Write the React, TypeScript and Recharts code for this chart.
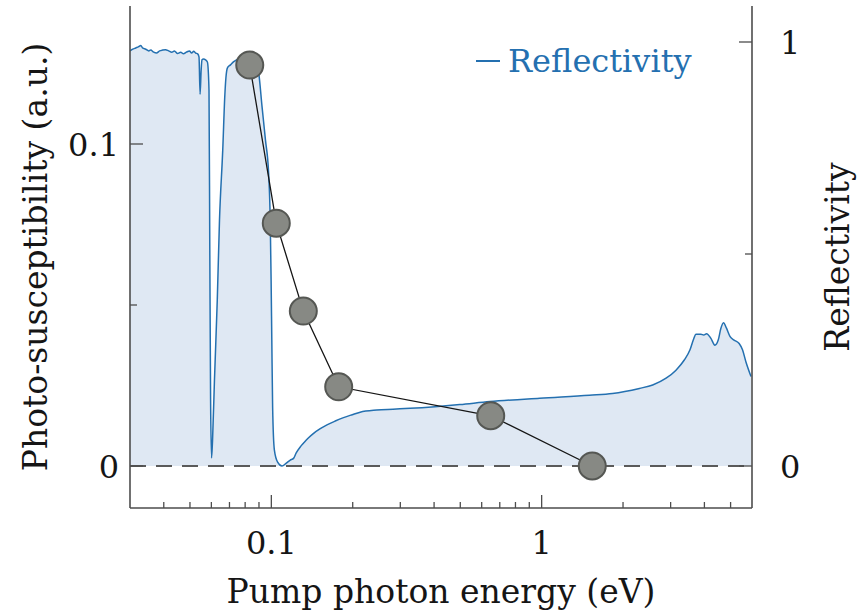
import {
  ComposedChart,
  Area,
  Scatter,
  XAxis,
  YAxis,
  ReferenceLine,
  Legend,
} from 'recharts';

const FONT = '"DejaVu Serif", serif';
const BLUE = '#2470b0';
const FILL = '#dfe8f3';
const AXIS = '#4d4d4d';
const INK = '#151515';

// reflectivity spectrum (photon energy in eV)
const REFL_E = [
  0.0300, 0.0307, 0.0315, 0.0323, 0.0329, 0.0334, 0.0343, 0.0352, 0.0358, 0.0367,
  0.0376, 0.0386, 0.0396, 0.0406, 0.0417, 0.0428, 0.0438, 0.0450, 0.0462, 0.0473,
  0.0485, 0.0498, 0.0507, 0.0516, 0.0525, 0.0534, 0.0540, 0.0545, 0.0550, 0.0554,
  0.0561, 0.0571, 0.0580, 0.0588, 0.0592, 0.0596, 0.0601, 0.0606, 0.0616, 0.0631,
  0.0643, 0.0661, 0.0673, 0.0679, 0.0688, 0.0706, 0.0724, 0.0743, 0.0762, 0.0788,
  0.0815, 0.0844, 0.0873, 0.0898, 0.0924, 0.0951, 0.0977, 0.0991, 0.0998, 0.1004,
  0.1011, 0.1026, 0.1055, 0.1095, 0.1136, 0.1175, 0.1208, 0.1236, 0.1279, 0.1316,
  0.1370, 0.1433, 0.1517, 0.1606, 0.1723, 0.1849, 0.1991, 0.2131, 0.2454, 0.2819,
  0.3260, 0.4030, 0.4980, 0.6430, 0.9831, 1.503, 1.828, 2.299, 2.575, 2.886,
  3.140, 3.370, 3.538, 3.638, 3.724, 3.884, 3.977, 4.075, 4.228, 4.374,
  4.500, 4.604, 4.707, 4.828, 4.980, 5.150, 5.378, 5.534, 5.695, 5.950,
];
const REFL_R = [
  0.979, 0.983, 0.986, 0.989, 0.992, 0.986, 0.983, 0.979, 0.981, 0.976,
  0.974, 0.979, 0.981, 0.982, 0.979, 0.976, 0.979, 0.973, 0.976, 0.972,
  0.976, 0.979, 0.974, 0.978, 0.974, 0.972, 0.965, 0.877, 0.934, 0.958,
  0.960, 0.958, 0.953, 0.887, 0.509, 0.156, 0.019, 0.061, 0.203, 0.392,
  0.580, 0.745, 0.875, 0.915, 0.939, 0.946, 0.953, 0.958, 0.962, 0.965,
  0.967, 0.967, 0.958, 0.927, 0.847, 0.769, 0.691, 0.573, 0.439, 0.297,
  0.139, 0.038, 0.009, 0.000, 0.007, 0.014, 0.018, 0.031, 0.045, 0.054,
  0.066, 0.077, 0.088, 0.097, 0.106, 0.114, 0.121, 0.127, 0.132, 0.134,
  0.136, 0.140, 0.145, 0.152, 0.160, 0.167, 0.171, 0.183, 0.191, 0.207,
  0.226, 0.250, 0.274, 0.297, 0.311, 0.311, 0.309, 0.312, 0.301, 0.285,
  0.297, 0.325, 0.338, 0.325, 0.305, 0.297, 0.289, 0.274, 0.246, 0.211,
];

// photo-susceptibility measured at the pump energies
const PUMP_E = [0.0832, 0.1043, 0.1313, 0.1775, 0.648, 1.539];
const PUMP_S = [0.1245, 0.0754, 0.0481, 0.0246, 0.0156, 0.0];

const X_TICKS = [
  0.04, 0.05, 0.06, 0.07, 0.08, 0.09, 0.1,
  0.2, 0.3, 0.4, 0.5, 0.6, 0.7, 0.8, 0.9, 1,
  2, 3, 4, 5,
];
const X_LABELS = [0.1, 1];
const S_TICKS = [0, 0.05, 0.1];
const S_LABELS = [0, 0.1];
const R_TICKS = [0, 0.5, 1];
const R_LABELS = [0, 1];

const reflData = REFL_E.map((e, i) => ({ e, r: REFL_R[i] }));
const pumpData = PUMP_E.map((e, i) => ({ e, s: PUMP_S[i] }));

const axisLine = { stroke: AXIS, strokeWidth: 1.6 };

// ticks point into the plot, labels only on the decades / main values
function XTick({ x, y, payload }: any) {
  const major = X_LABELS.includes(payload.value);
  return (
    <g>
      <line x1={x} x2={x} y1={y} y2={y - (major ? 13 : 6)} stroke={AXIS} strokeWidth={1.3} />
      {major && (
        <text x={x} y={y + 46} textAnchor="middle" fontFamily={FONT} fontSize={32} fill={INK}>
          {payload.value}
        </text>
      )}
    </g>
  );
}

function LeftTick({ x, y, payload }: any) {
  const major = S_LABELS.includes(payload.value);
  return (
    <g>
      <line x1={x} x2={x + (major ? 13 : 7)} y1={y} y2={y} stroke={AXIS} strokeWidth={1.3} />
      {major && (
        <text x={x - 11} y={y + 12} textAnchor="end" fontFamily={FONT} fontSize={32} fill={INK}>
          {payload.value}
        </text>
      )}
    </g>
  );
}

function RightTick({ x, y, payload }: any) {
  const major = R_LABELS.includes(payload.value);
  return (
    <g>
      <line x1={x} x2={x - (major ? 13 : 7)} y1={y} y2={y} stroke={AXIS} strokeWidth={1.3} />
      {major && (
        <text x={x + 28} y={y + 12} textAnchor="start" fontFamily={FONT} fontSize={32} fill={INK}>
          {payload.value}
        </text>
      )}
    </g>
  );
}

const verticalTitle = (text: string, dx: number) => (props: any) => {
  const vb = props.viewBox;
  const cx = vb.x + dx;
  const cy = vb.y + vb.height / 2;
  return (
    <text
      x={cx}
      y={cy}
      transform={`rotate(-90 ${cx} ${cy})`}
      textAnchor="middle"
      dominantBaseline="central"
      fontFamily={FONT}
      fontSize={33}
      fill={INK}
    >
      {text}
    </text>
  );
};

const renderLegend = ({ payload }: any) => (
  <div style={{ display: 'flex', alignItems: 'center', fontFamily: FONT, fontSize: 32, lineHeight: '32px', color: BLUE }}>
    {(payload || [])
      .filter((p: any) => p.type !== 'none')
      .map((p: any) => (
        <span key={p.value} style={{ display: 'flex', alignItems: 'center' }}>
          <svg width={24} height={4}>
            <line x1={0} x2={24} y1={2} y2={2} stroke={BLUE} strokeWidth={2} />
          </svg>
          <span style={{ marginLeft: 8 }}>{p.value}</span>
        </span>
      ))}
  </div>
);

export default function App() {
  return (
    <div style={{ position: 'absolute', left: 0, top: 0, background: '#fff' }}>
      <ComposedChart
        width={860}
        height={615}
        data={reflData}
        margin={{ top: 6, right: 0, bottom: 0, left: 0 }}
      >
        <XAxis
          dataKey="e"
          type="number"
          scale="log"
          domain={[0.03, 6]}
          allowDataOverflow
          ticks={X_TICKS}
          interval={0}
          tick={<XTick />}
          tickLine={false}
          tickSize={0}
          tickMargin={0}
          height={107}
          axisLine={axisLine}
          label={{
            value: 'Pump photon energy (eV)',
            position: 'insideBottom',
            offset: 12,
            style: { fontFamily: FONT, fontSize: 33, fill: INK },
          }}
        />
        <XAxis
          xAxisId="top"
          orientation="top"
          type="number"
          scale="log"
          domain={[0.03, 6]}
          allowDataOverflow
          height={0}
          tick={false}
          tickLine={false}
          axisLine={axisLine}
        />
        <YAxis
          yAxisId="left"
          dataKey="s"
          type="number"
          domain={[-0.013043, 0.142857]}
          allowDataOverflow
          ticks={S_TICKS}
          interval={0}
          tick={<LeftTick />}
          tickLine={false}
          tickSize={0}
          tickMargin={0}
          width={130}
          axisLine={axisLine}
          label={verticalTitle('Photo-susceptibility (a.u.)', 35)}
        />
        <YAxis
          yAxisId="right"
          orientation="right"
          dataKey="r"
          type="number"
          domain={[-0.09906, 1.08491]}
          allowDataOverflow
          ticks={R_TICKS}
          interval={0}
          tick={<RightTick />}
          tickLine={false}
          tickSize={0}
          tickMargin={0}
          width={108}
          axisLine={axisLine}
          label={verticalTitle('Reflectivity', 85)}
        />
        <Area
          yAxisId="right"
          dataKey="r"
          name="Reflectivity"
          type="monotoneX"
          stroke={BLUE}
          strokeWidth={1.5}
          fill={FILL}
          fillOpacity={1}
          baseValue={0}
          dot={false}
          activeDot={false}
          isAnimationActive={false}
        />
        <ReferenceLine yAxisId="left" y={0} stroke="#5a5a5a" strokeWidth={2} strokeDasharray="16 10" />
        <Scatter
          yAxisId="left"
          data={pumpData}
          name="Photo-susceptibility"
          legendType="none"
          line={{ stroke: INK, strokeWidth: 1.3 }}
          shape={(p: any) => (
            <circle cx={p.cx} cy={p.cy} r={13.5} fill="#878984" stroke="#555753" strokeWidth={2} />
          )}
          isAnimationActive={false}
        />
        {/* vertically "middle" keeps the legend from reserving space below the plot */}
        <Legend
          layout="horizontal"
          verticalAlign="middle"
          align="center"
          content={renderLegend}
          wrapperStyle={{ position: 'absolute', left: 476, top: 45, width: 260 }}
        />
      </ComposedChart>
    </div>
  );
}
